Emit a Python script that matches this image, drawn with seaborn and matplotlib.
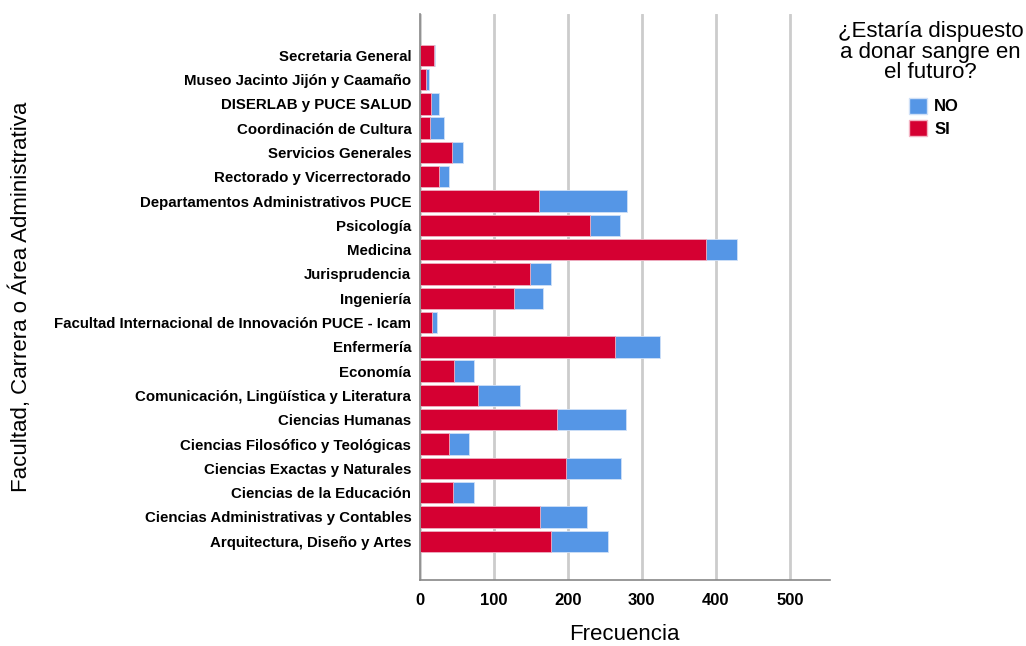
import matplotlib
matplotlib.use("Agg")
import matplotlib.pyplot as plt
import matplotlib.patches as mpatches
import seaborn as sns
import pandas as pd

categorias = [
    "Secretaria General",
    "Museo Jacinto Jijón y Caamaño",
    "DISERLAB y PUCE SALUD",
    "Coordinación de Cultura",
    "Servicios Generales",
    "Rectorado y Vicerrectorado",
    "Departamentos Administrativos PUCE",
    "Psicología",
    "Medicina",
    "Jurisprudencia",
    "Ingeniería",
    "Facultad Internacional de Innovación PUCE - Icam",
    "Enfermería",
    "Economía",
    "Comunicación, Lingüística y Literatura",
    "Ciencias Humanas",
    "Ciencias Filosófico y Teológicas",
    "Ciencias Exactas y Naturales",
    "Ciencias de la Educación",
    "Ciencias Administrativas y Contables",
    "Arquitectura, Diseño y Artes",
]
si = [20, 9, 16, 14, 44, 26, 161, 230, 387, 149, 127, 17, 264, 47, 79, 186, 39, 197, 45, 163, 177]
no = [1, 4, 10, 19, 14, 13, 119, 41, 42, 29, 40, 7, 61, 26, 57, 92, 27, 75, 28, 63, 77]

df = pd.DataFrame({"cat": categorias, "SI": si, "NO": no})
df["total"] = df["SI"] + df["NO"]

azul = "#5596E6"
rojo = "#D50032"

sns.set_style("white")
plt.rcParams["font.family"] = ["Liberation Sans", "DejaVu Sans"]
plt.rcParams["text.color"] = "black"
plt.rcParams["axes.labelcolor"] = "black"
plt.rcParams["xtick.color"] = "black"
plt.rcParams["ytick.color"] = "black"

fig = plt.figure(figsize=(10.26, 6.46), dpi=100)
ax = fig.add_axes([0.409, 0.102, 0.400, 0.876])

sns.barplot(data=df, x="total", y="cat", color=azul, orient="h", width=0.88,
            edgecolor="#cfe0f7", linewidth=0.6, ax=ax, saturation=1)
sns.barplot(data=df, x="SI", y="cat", color=rojo, orient="h", width=0.88,
            edgecolor="#f3b3c3", linewidth=0.6, ax=ax, saturation=1)

ax.set_xlim(0, 554)
ax.set_ylim(21.6, -1.69)
ax.set_xticks([0, 100, 200, 300, 400, 500])
ax.xaxis.grid(True, color="#cccccc", linewidth=2)
ax.set_axisbelow(True)
sns.despine(ax=ax, top=True, right=True)
for s in ["left", "bottom"]:
    ax.spines[s].set_color("#888888")
    ax.spines[s].set_linewidth(1.2)

ax.tick_params(axis="y", length=0, pad=6)
ax.tick_params(axis="x", length=0, pad=9)
for lab in ax.get_yticklabels():
    lab.set_fontweight("bold")
    lab.set_fontsize(10.8)
for lab in ax.get_xticklabels():
    lab.set_fontweight("bold")
    lab.set_fontsize(12)

ax.set_xlabel("Frecuencia", fontsize=16, labelpad=12)
ax.set_ylabel("Facultad, Carrera o Área Administrativa", fontsize=16)
ax.yaxis.set_label_coords(-0.945, 0.5)

fig.text(0.907, 0.967, "¿Estaría dispuesto\na donar sangre en\nel futuro?",
         ha="center", va="top", fontsize=16, linespacing=0.95)

handles = [mpatches.Patch(facecolor=azul, edgecolor="#cfe0f7", label="NO"),
           mpatches.Patch(facecolor=rojo, edgecolor="#f3b3c3", label="SI")]
fig.legend(handles=handles, loc="upper left", bbox_to_anchor=(0.886, 0.849),
           frameon=False, borderaxespad=0, borderpad=0,
           prop={"weight": "bold", "size": 12},
           handlelength=1.1, handleheight=1.1, handletextpad=0.4,
           labelspacing=0.35)

fig.savefig("out.png", dpi=100)
